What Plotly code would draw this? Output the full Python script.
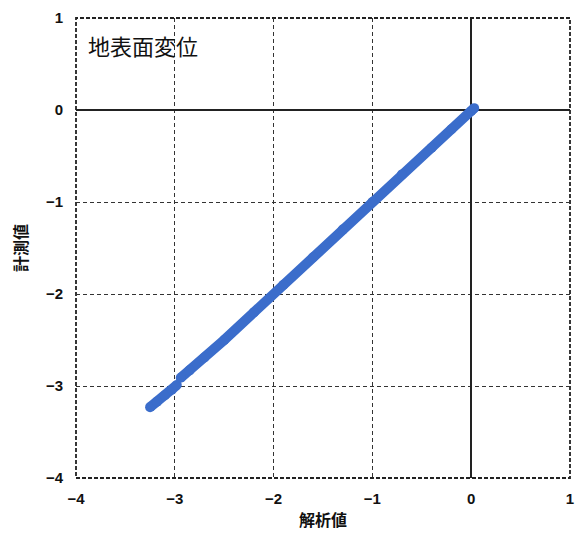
import plotly.graph_objects as go

analysis_low = [-3.25, -3.18, -3.10, -3.03, -2.98]
measured_low = [-3.23, -3.17, -3.10, -3.04, -2.99]
analysis_up = [-2.94, -2.85, -2.70, -2.50, -2.20, -1.90, -1.60, -1.30, -1.00, -0.70, -0.40, -0.20, 0.00, 0.03]
measured_up = [-2.91, -2.83, -2.69, -2.50, -2.20, -1.90, -1.60, -1.30, -1.00, -0.70, -0.41, -0.21, -0.01, 0.02]

x_ticks = [-4, -3, -2, -1, 0, 1]
y_ticks = [-4, -3, -2, -1, 0, 1]
title_text = "地表面変位"
x_title = "解析値"
y_title = "計測値"

blue = "#3b6dcb"
font = "Noto Sans CJK JP, Liberation Sans, Arial"

fig = go.Figure()
for xs, ys in [(analysis_low, measured_low), (analysis_up, measured_up)]:
    fig.add_trace(go.Scatter(x=xs, y=ys, mode="lines+markers",
                             line=dict(color=blue, width=10),
                             marker=dict(color=blue, size=10),
                             showlegend=False, hoverinfo="skip"))

# dashed frame
fig.add_shape(type="rect", xref="paper", yref="paper", x0=0, y0=0, x1=1, y1=1,
              line=dict(color="#222", width=1.8, dash="4px,2px"), layer="below")

axis_common = dict(showgrid=True, gridcolor="#333", griddash="4px,3px", gridwidth=1.3,
                   zeroline=True, zerolinecolor="#222", zerolinewidth=1.5,
                   showline=False, ticks="", automargin=False,
                   tickfont=dict(family="Liberation Sans, Arial", size=15, color="#111", weight="bold"))

fig.update_xaxes(range=[-4, 1], tickvals=x_ticks, ticktext=[str(v).replace("-", "−") for v in x_ticks],
                 ticklabelstandoff=10,
                 title=dict(text=x_title, font=dict(family=font, size=16, color="#111", weight="bold"), standoff=8),
                 **axis_common)
fig.update_yaxes(range=[-4, 1], tickvals=y_ticks, ticktext=[str(v).replace("-", "−") for v in y_ticks],
                 ticklabelstandoff=12,
                 title=dict(text=y_title, font=dict(family=font, size=16, color="#111", weight="bold"), standoff=16),
                 **axis_common)

fig.add_annotation(xref="paper", yref="paper", x=0.02, y=0.98, xanchor="left", yanchor="top",
                   text=title_text, showarrow=False, font=dict(family=font, size=22, color="#111"))

fig.update_layout(width=576, height=534, plot_bgcolor="white", paper_bgcolor="white",
                  margin=dict(l=68, r=14, t=10, b=64))

fig.write_html("out.html")
